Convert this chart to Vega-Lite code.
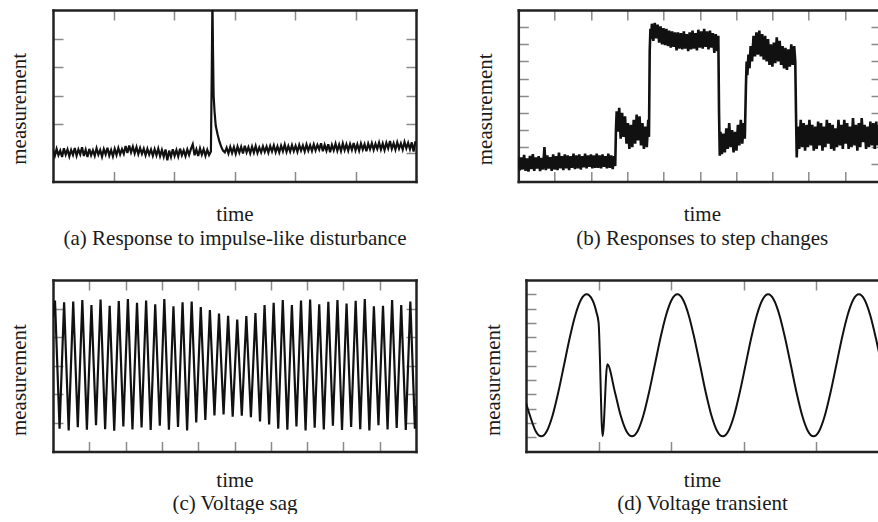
{
"$schema": "https://vega.github.io/schema/vega-lite/v6.json",
"padding": {"left": 8, "top": 9, "right": 0, "bottom": 0},
"background": "white",
"config": {
 "font": "Liberation Serif",
 "view": {"stroke": null},
 "axis": {"labels": false, "grid": false, "domainColor": "#222", "domainWidth": 2.5, "domainCap": "square", "tickColor": "#8a8a8a", "tickWidth": 1.5, "tickSize": -10, "titleFont": "Liberation Serif", "titleFontSize": 21, "titleFontWeight": "normal", "titleColor": "#1a1a1a", "titleBaseline": "alphabetic", "titleLineHeight": 23.8}
},
"datasets": {
 "a": [
{"t":0,"v":1.10},{"t":0.03,"v":0.90},{"t":0.06,"v":1.14},{"t":0.09,"v":0.92},{"t":0.12,"v":1.08},{"t":0.15,"v":0.86},{"t":0.18,"v":1.16},{"t":0.21,"v":0.94},{"t":0.24,"v":1.12},{"t":0.27,"v":0.88},{"t":0.30,"v":1.10},{"t":0.33,"v":0.93},{"t":0.36,"v":1.17},{"t":0.39,"v":0.90},{"t":0.42,"v":1.12},{"t":0.45,"v":0.95},{"t":0.48,"v":1.20},{"t":0.51,"v":0.89},{"t":0.54,"v":1.11},{"t":0.57,"v":0.86},{"t":0.60,"v":1.14},{"t":0.63,"v":0.92},{"t":0.66,"v":1.09},{"t":0.69,"v":0.90},{"t":0.72,"v":1.16},{"t":0.75,"v":0.94},{"t":0.78,"v":1.10},{"t":0.81,"v":0.87},{"t":0.84,"v":1.13},{"t":0.87,"v":0.95},{"t":0.90,"v":1.18},{"t":0.93,"v":0.91},{"t":0.96,"v":1.10},{"t":0.99,"v":0.88},{"t":1.02,"v":1.14},{"t":1.05,"v":0.93},{"t":1.08,"v":1.17},{"t":1.11,"v":0.95},{"t":1.14,"v":1.13},{"t":1.17,"v":0.97},{"t":1.20,"v":1.24},{"t":1.23,"v":1.00},{"t":1.26,"v":1.26},{"t":1.29,"v":1.02},{"t":1.32,"v":1.22},{"t":1.35,"v":0.98},{"t":1.38,"v":1.20},{"t":1.41,"v":0.96},{"t":1.44,"v":1.17},{"t":1.47,"v":0.97},{"t":1.50,"v":1.15},{"t":1.53,"v":0.92},{"t":1.56,"v":1.14},{"t":1.59,"v":0.94},{"t":1.62,"v":1.12},{"t":1.65,"v":0.90},{"t":1.68,"v":1.13},{"t":1.71,"v":0.92},{"t":1.74,"v":1.15},{"t":1.77,"v":0.89},{"t":1.80,"v":1.10},{"t":1.83,"v":0.87},{"t":1.86,"v":1.12},{"t":1.89,"v":0.74},{"t":1.92,"v":1.08},{"t":1.95,"v":0.86},{"t":1.98,"v":1.13},{"t":2.01,"v":0.90},{"t":2.04,"v":1.10},{"t":2.07,"v":0.88},{"t":2.10,"v":1.15},{"t":2.13,"v":0.92},{"t":2.16,"v":1.09},{"t":2.19,"v":0.89},{"t":2.22,"v":1.12},{"t":2.25,"v":0.93},{"t":2.28,"v":1.14},{"t":2.31,"v":1.30},{"t":2.34,"v":0.92},{"t":2.37,"v":1.12},{"t":2.40,"v":0.89},{"t":2.43,"v":1.16},{"t":2.46,"v":0.94},{"t":2.49,"v":1.13},{"t":2.52,"v":0.90},{"t":2.55,"v":1.11},{"t":2.58,"v":0.93},{"t":2.61,"v":1.05},
{"t":2.625,"v":4.0},{"t":2.635,"v":6.4},{"t":2.645,"v":4.5},{"t":2.655,"v":3.0},{"t":2.67,"v":2.45},{"t":2.69,"v":1.95},{"t":2.72,"v":1.65},{"t":2.75,"v":1.40},{"t":2.78,"v":1.22},{"t":2.81,"v":1.08},{"t":2.84,"v":1.02},
{"t":2.87,"v":1.18},{"t":2.90,"v":0.98},{"t":2.93,"v":1.21},{"t":2.96,"v":1.00},{"t":2.99,"v":1.20},{"t":3.02,"v":0.97},{"t":3.05,"v":1.22},{"t":3.08,"v":1.01},{"t":3.11,"v":1.21},{"t":3.14,"v":0.98},{"t":3.17,"v":1.25},{"t":3.20,"v":1.02},{"t":3.23,"v":1.20},{"t":3.26,"v":0.99},{"t":3.29,"v":1.22},{"t":3.32,"v":1.01},{"t":3.35,"v":1.24},{"t":3.38,"v":1.00},{"t":3.41,"v":1.19},{"t":3.44,"v":1.02},{"t":3.47,"v":1.23},{"t":3.50,"v":1.04},{"t":3.53,"v":1.22},{"t":3.56,"v":1.01},{"t":3.59,"v":1.24},{"t":3.62,"v":1.05},{"t":3.65,"v":1.26},{"t":3.68,"v":1.03},{"t":3.71,"v":1.23},{"t":3.74,"v":1.02},{"t":3.77,"v":1.25},{"t":3.80,"v":1.06},{"t":3.83,"v":1.29},{"t":3.86,"v":1.04},{"t":3.89,"v":1.24},{"t":3.92,"v":1.05},{"t":3.95,"v":1.27},{"t":3.98,"v":1.06},{"t":4.01,"v":1.25},{"t":4.04,"v":1.04},{"t":4.07,"v":1.28},{"t":4.10,"v":1.08},{"t":4.13,"v":1.26},{"t":4.16,"v":1.05},{"t":4.19,"v":1.29},{"t":4.22,"v":1.08},{"t":4.25,"v":1.27},{"t":4.28,"v":1.07},{"t":4.31,"v":1.30},{"t":4.34,"v":1.09},{"t":4.37,"v":1.28},{"t":4.40,"v":1.12},{"t":4.43,"v":1.34},{"t":4.46,"v":1.06},{"t":4.49,"v":1.28},{"t":4.52,"v":1.08},{"t":4.55,"v":1.30},{"t":4.58,"v":1.02},{"t":4.61,"v":1.28},{"t":4.64,"v":1.09},{"t":4.67,"v":1.32},{"t":4.70,"v":1.08},{"t":4.73,"v":1.29},{"t":4.76,"v":1.07},{"t":4.79,"v":1.33},{"t":4.82,"v":1.10},{"t":4.85,"v":1.30},{"t":4.88,"v":1.08},{"t":4.91,"v":1.31},{"t":4.94,"v":1.11},{"t":4.97,"v":1.35},{"t":5.00,"v":1.09},{"t":5.03,"v":1.30},{"t":5.06,"v":1.08},{"t":5.09,"v":1.33},{"t":5.12,"v":1.12},{"t":5.15,"v":1.30},{"t":5.18,"v":1.06},{"t":5.21,"v":1.32},{"t":5.24,"v":1.13},{"t":5.27,"v":1.34},{"t":5.30,"v":1.11},{"t":5.33,"v":1.32},{"t":5.36,"v":1.14},{"t":5.39,"v":1.36},{"t":5.42,"v":1.12},{"t":5.45,"v":1.33},{"t":5.48,"v":1.10},{"t":5.51,"v":1.35},{"t":5.54,"v":1.16},{"t":5.57,"v":1.42},{"t":5.60,"v":1.14},{"t":5.63,"v":1.34},{"t":5.66,"v":1.12},{"t":5.69,"v":1.37},{"t":5.72,"v":1.15},{"t":5.75,"v":1.33},{"t":5.78,"v":1.12},{"t":5.81,"v":1.38},{"t":5.84,"v":1.16},{"t":5.87,"v":1.35},{"t":5.90,"v":1.13},{"t":5.93,"v":1.37},{"t":5.96,"v":1.05},{"t":5.99,"v":1.40},{"t":6.00,"v":1.26}
 ],
 "b": [
{"t":0,"v":1.45},{"t":0.04,"v":0.65},{"t":0.08,"v":1.40},{"t":0.12,"v":0.70},{"t":0.16,"v":1.55},{"t":0.20,"v":0.62},{"t":0.24,"v":1.35},{"t":0.28,"v":0.58},{"t":0.32,"v":1.50},{"t":0.36,"v":0.72},{"t":0.40,"v":1.60},{"t":0.44,"v":0.62},{"t":0.48,"v":1.40},{"t":0.52,"v":0.75},{"t":0.56,"v":1.48},{"t":0.60,"v":0.60},{"t":0.64,"v":1.38},{"t":0.68,"v":0.70},{"t":0.72,"v":2.00},{"t":0.76,"v":0.66},{"t":0.80,"v":1.52},{"t":0.84,"v":0.75},{"t":0.88,"v":1.42},{"t":0.92,"v":0.62},{"t":0.96,"v":1.58},{"t":1.00,"v":0.70},{"t":1.04,"v":1.48},{"t":1.08,"v":0.66},{"t":1.12,"v":1.68},{"t":1.16,"v":0.76},{"t":1.20,"v":1.48},{"t":1.24,"v":0.66},{"t":1.28,"v":1.58},{"t":1.32,"v":0.76},{"t":1.36,"v":1.52},{"t":1.40,"v":0.66},{"t":1.44,"v":1.48},{"t":1.48,"v":0.80},{"t":1.52,"v":1.62},{"t":1.56,"v":0.72},{"t":1.60,"v":1.52},{"t":1.64,"v":0.76},{"t":1.68,"v":1.58},{"t":1.72,"v":0.70},{"t":1.76,"v":1.48},{"t":1.80,"v":0.82},{"t":1.84,"v":1.62},{"t":1.88,"v":0.76},{"t":1.92,"v":1.52},{"t":1.96,"v":0.86},{"t":2.00,"v":1.58},{"t":2.04,"v":0.76},{"t":2.08,"v":1.52},{"t":2.12,"v":0.80},{"t":2.16,"v":1.62},{"t":2.20,"v":0.80},{"t":2.24,"v":1.52},{"t":2.28,"v":0.76},{"t":2.32,"v":1.58},{"t":2.36,"v":0.86},{"t":2.40,"v":1.48},{"t":2.44,"v":0.76},{"t":2.48,"v":1.62},{"t":2.52,"v":0.80},{"t":2.56,"v":1.52},{"t":2.60,"v":0.72},{"t":2.64,"v":1.48},{"t":2.67,"v":0.90},
{"t":2.69,"v":3.0},{"t":2.71,"v":4.1},{"t":2.74,"v":2.9},{"t":2.78,"v":4.3},{"t":2.82,"v":2.5},{"t":2.86,"v":4.0},{"t":2.90,"v":2.6},{"t":2.94,"v":3.8},{"t":2.98,"v":2.2},{"t":3.02,"v":3.4},{"t":3.06,"v":1.9},{"t":3.10,"v":3.3},{"t":3.14,"v":2.0},{"t":3.18,"v":3.6},{"t":3.22,"v":2.2},{"t":3.26,"v":3.9},{"t":3.30,"v":2.4},{"t":3.34,"v":3.8},{"t":3.38,"v":2.1},{"t":3.42,"v":3.4},{"t":3.46,"v":1.9},{"t":3.50,"v":3.2},{"t":3.54,"v":2.0},{"t":3.58,"v":3.6},{"t":3.60,"v":2.6},
{"t":3.62,"v":7.6},{"t":3.64,"v":8.9},{"t":3.66,"v":8.3},{"t":3.68,"v":9.2},{"t":3.72,"v":8.2},{"t":3.76,"v":9.25},{"t":3.80,"v":8.35},{"t":3.84,"v":9.15},{"t":3.88,"v":8.1},{"t":3.92,"v":9.05},{"t":3.96,"v":8.0},{"t":4.00,"v":8.95},{"t":4.04,"v":7.95},{"t":4.08,"v":8.9},{"t":4.12,"v":7.9},{"t":4.16,"v":8.8},{"t":4.20,"v":7.8},{"t":4.24,"v":8.75},{"t":4.28,"v":7.85},{"t":4.32,"v":8.7},{"t":4.36,"v":7.65},{"t":4.40,"v":8.7},{"t":4.44,"v":7.75},{"t":4.48,"v":8.65},{"t":4.52,"v":7.7},{"t":4.56,"v":8.75},{"t":4.60,"v":7.75},{"t":4.64,"v":8.6},{"t":4.68,"v":7.6},{"t":4.72,"v":8.7},{"t":4.76,"v":7.7},{"t":4.80,"v":8.8},{"t":4.84,"v":7.75},{"t":4.88,"v":8.65},{"t":4.92,"v":7.65},{"t":4.96,"v":8.85},{"t":5.00,"v":7.8},{"t":5.04,"v":8.75},{"t":5.08,"v":7.75},{"t":5.12,"v":8.9},{"t":5.16,"v":7.85},{"t":5.20,"v":8.75},{"t":5.24,"v":7.7},{"t":5.28,"v":8.8},{"t":5.32,"v":7.8},{"t":5.36,"v":8.65},{"t":5.40,"v":7.5},{"t":5.44,"v":8.6},{"t":5.48,"v":7.6},{"t":5.51,"v":8.5},
{"t":5.53,"v":4.0},{"t":5.55,"v":1.5},{"t":5.57,"v":2.9},{"t":5.61,"v":1.6},{"t":5.65,"v":2.8},{"t":5.69,"v":1.7},{"t":5.73,"v":3.1},{"t":5.77,"v":1.9},{"t":5.81,"v":3.4},{"t":5.85,"v":2.0},{"t":5.89,"v":3.0},{"t":5.93,"v":1.7},{"t":5.97,"v":2.9},{"t":6.01,"v":1.8},{"t":6.05,"v":3.3},{"t":6.09,"v":2.1},{"t":6.13,"v":3.6},{"t":6.17,"v":2.2},{"t":6.21,"v":3.4},{"t":6.24,"v":2.5},
{"t":6.27,"v":5.5},{"t":6.29,"v":7.0},{"t":6.31,"v":6.2},{"t":6.34,"v":7.4},{"t":6.37,"v":6.6},{"t":6.40,"v":7.9},{"t":6.44,"v":7.0},{"t":6.48,"v":8.5},{"t":6.52,"v":7.3},{"t":6.56,"v":8.7},{"t":6.60,"v":7.4},{"t":6.64,"v":8.8},{"t":6.68,"v":7.3},{"t":6.72,"v":8.6},{"t":6.76,"v":7.1},{"t":6.80,"v":8.5},{"t":6.84,"v":7.0},{"t":6.88,"v":8.3},{"t":6.92,"v":6.8},{"t":6.96,"v":8.0},{"t":7.00,"v":6.7},{"t":7.04,"v":8.1},{"t":7.08,"v":6.9},{"t":7.12,"v":8.4},{"t":7.16,"v":7.0},{"t":7.20,"v":8.2},{"t":7.24,"v":6.8},{"t":7.28,"v":7.9},{"t":7.32,"v":6.6},{"t":7.36,"v":7.8},{"t":7.40,"v":6.5},{"t":7.44,"v":7.7},{"t":7.48,"v":6.7},{"t":7.52,"v":8.0},{"t":7.56,"v":6.8},{"t":7.60,"v":7.9},{"t":7.63,"v":7.0},
{"t":7.65,"v":4.0},{"t":7.67,"v":1.4},{"t":7.70,"v":3.2},{"t":7.74,"v":1.9},{"t":7.78,"v":3.6},{"t":7.82,"v":2.0},{"t":7.86,"v":3.4},{"t":7.90,"v":1.8},{"t":7.94,"v":3.3},{"t":7.98,"v":2.0},{"t":8.02,"v":3.6},{"t":8.06,"v":2.1},{"t":8.10,"v":3.3},{"t":8.14,"v":1.8},{"t":8.18,"v":3.2},{"t":8.22,"v":1.9},{"t":8.26,"v":3.5},{"t":8.30,"v":2.1},{"t":8.34,"v":3.4},{"t":8.38,"v":1.8},{"t":8.42,"v":3.2},{"t":8.46,"v":2.0},{"t":8.50,"v":3.6},{"t":8.54,"v":2.2},{"t":8.58,"v":3.4},{"t":8.62,"v":1.9},{"t":8.66,"v":3.3},{"t":8.70,"v":1.8},{"t":8.74,"v":3.1},{"t":8.78,"v":2.0},{"t":8.82,"v":3.6},{"t":8.86,"v":2.1},{"t":8.90,"v":3.3},{"t":8.94,"v":1.9},{"t":8.98,"v":3.6},{"t":9.02,"v":2.2},{"t":9.06,"v":3.4},{"t":9.10,"v":1.9},{"t":9.14,"v":3.2},{"t":9.18,"v":2.0},{"t":9.22,"v":3.7},{"t":9.26,"v":2.1},{"t":9.30,"v":3.3},{"t":9.34,"v":1.8},{"t":9.38,"v":3.4},{"t":9.42,"v":2.0},{"t":9.46,"v":3.7},{"t":9.50,"v":2.3},{"t":9.54,"v":3.3},{"t":9.58,"v":1.9},{"t":9.62,"v":3.2},{"t":9.66,"v":2.0},{"t":9.70,"v":3.5},{"t":9.74,"v":2.1},{"t":9.78,"v":3.4},{"t":9.82,"v":1.9},{"t":9.86,"v":3.5},{"t":9.90,"v":2.1},{"t":9.94,"v":3.3},{"t":9.98,"v":2.0}
 ],
 "c": [
{"t":0,"v":4.7},{"t":0.055,"v":5.28},{"t":0.181,"v":0.80},{"t":0.306,"v":5.22},{"t":0.432,"v":0.74},{"t":0.557,"v":5.25},{"t":0.683,"v":0.85},{"t":0.808,"v":5.30},{"t":0.934,"v":0.76},{"t":1.059,"v":5.12},{"t":1.185,"v":0.92},{"t":1.310,"v":5.32},{"t":1.436,"v":0.78},{"t":1.561,"v":5.10},{"t":1.687,"v":0.73},{"t":1.812,"v":5.26},{"t":1.938,"v":0.88},{"t":2.063,"v":5.33},{"t":2.189,"v":0.77},{"t":2.314,"v":5.20},{"t":2.440,"v":0.84},{"t":2.565,"v":5.28},{"t":2.691,"v":0.75},{"t":2.816,"v":5.15},{"t":2.942,"v":0.90},{"t":3.067,"v":5.33},{"t":3.193,"v":0.76},{"t":3.318,"v":5.08},{"t":3.444,"v":0.86},{"t":3.569,"v":5.22},{"t":3.695,"v":0.74},{"t":3.820,"v":5.25},{"t":3.946,"v":1.02},{"t":4.071,"v":5.05},{"t":4.197,"v":1.10},{"t":4.322,"v":4.95},{"t":4.448,"v":1.26},{"t":4.573,"v":4.83},{"t":4.699,"v":1.30},{"t":4.824,"v":4.75},{"t":4.950,"v":1.22},{"t":5.075,"v":4.62},{"t":5.201,"v":1.25},{"t":5.326,"v":4.74},{"t":5.452,"v":1.20},{"t":5.577,"v":4.84},{"t":5.703,"v":1.05},{"t":5.828,"v":5.12},{"t":5.954,"v":0.95},{"t":6.079,"v":5.20},{"t":6.205,"v":0.80},{"t":6.330,"v":5.30},{"t":6.456,"v":0.76},{"t":6.581,"v":5.12},{"t":6.707,"v":0.88},{"t":6.832,"v":5.28},{"t":6.958,"v":0.74},{"t":7.083,"v":5.32},{"t":7.209,"v":0.83},{"t":7.334,"v":5.15},{"t":7.460,"v":0.77},{"t":7.585,"v":5.24},{"t":7.711,"v":0.90},{"t":7.836,"v":5.30},{"t":7.962,"v":0.75},{"t":8.087,"v":5.18},{"t":8.213,"v":0.86},{"t":8.338,"v":5.27},{"t":8.464,"v":0.78},{"t":8.589,"v":5.33},{"t":8.715,"v":0.74},{"t":8.840,"v":5.08},{"t":8.966,"v":0.92},{"t":9.091,"v":5.10},{"t":9.217,"v":0.77},{"t":9.342,"v":5.30},{"t":9.468,"v":0.82},{"t":9.593,"v":5.12},{"t":9.719,"v":0.75},{"t":9.844,"v":5.25},{"t":9.970,"v":0.80},{"t":10.0,"v":1.6}
 ],
 "d": [
{"t":0,"v":3.40},{"t":0.054,"v":2.52},{"t":0.132,"v":1.44},{"t":0.21,"v":1.06},{"t":0.288,"v":1.44},{"t":0.366,"v":2.52},{"t":0.444,"v":4.13},{"t":0.523,"v":6.03},{"t":0.601,"v":7.93},{"t":0.679,"v":9.54},{"t":0.757,"v":10.62},{"t":0.835,"v":11.0},{"t":0.913,"v":10.62},{"t":0.97,"v":9.75},{"t":1.0,"v":9.0},{"t":1.055,"v":1.07},{"t":1.12,"v":6.1},{"t":1.226,"v":4.13},{"t":1.304,"v":2.52},{"t":1.382,"v":1.44},{"t":1.46,"v":1.06},{"t":1.538,"v":1.44},{"t":1.616,"v":2.52},{"t":1.694,"v":4.13},{"t":1.773,"v":6.03},{"t":1.851,"v":7.93},{"t":1.929,"v":9.54},{"t":2.007,"v":10.62},{"t":2.085,"v":11.0},{"t":2.163,"v":10.62},{"t":2.241,"v":9.54},{"t":2.319,"v":7.93},{"t":2.398,"v":6.03},{"t":2.476,"v":4.13},{"t":2.554,"v":2.52},{"t":2.632,"v":1.44},{"t":2.71,"v":1.06},{"t":2.788,"v":1.44},{"t":2.866,"v":2.52},{"t":2.944,"v":4.13},{"t":3.023,"v":6.03},{"t":3.101,"v":7.93},{"t":3.179,"v":9.54},{"t":3.257,"v":10.62},{"t":3.335,"v":11.0},{"t":3.413,"v":10.62},{"t":3.491,"v":9.54},{"t":3.569,"v":7.93},{"t":3.648,"v":6.03},{"t":3.726,"v":4.13},{"t":3.804,"v":2.52},{"t":3.882,"v":1.44},{"t":3.96,"v":1.06},{"t":4.038,"v":1.44},{"t":4.116,"v":2.52},{"t":4.194,"v":4.13},{"t":4.273,"v":6.03},{"t":4.351,"v":7.93},{"t":4.429,"v":9.54},{"t":4.507,"v":10.62},{"t":4.585,"v":11.0},{"t":4.663,"v":10.62},{"t":4.741,"v":9.54},{"t":4.819,"v":7.93},{"t":4.898,"v":6.03},{"t":4.976,"v":4.13}
 ]
},
"vconcat": [
 {"hconcat": [
  {"width": 363, "height": 171.5, "data": {"name": "a"},
   "layer": [
    {"mark": {"type": "line", "color": "#111", "strokeWidth": 2.2, "clip": true},
     "encoding": {
      "x": {"field": "t", "type": "quantitative", "scale": {"domain": [0, 6], "nice": false, "zero": false}, "axis": {"orient": "bottom", "values": [1, 2, 3, 4, 5], "title": ["time", "(a) Response to impulse-like disturbance"], "titleY": 39}},
      "y": {"field": "v", "type": "quantitative", "scale": {"domain": [0, 6], "nice": false, "zero": false}, "axis": {"orient": "left", "values": [1, 2, 3, 4, 5], "title": "measurement", "titleX": -28, "titleY": 98.3, "titleAngle": 270, "titleAlign": "center"}}
     }},
    {"mark": {"type": "line", "opacity": 0, "clip": true},
     "encoding": {
      "x": {"field": "t", "type": "quantitative", "axis": {"orient": "top", "values": [1, 2, 3, 4, 5], "title": null}},
      "y": {"field": "v", "type": "quantitative", "axis": {"orient": "right", "values": [1, 2, 3, 4, 5], "title": null}}
     }}
   ],
   "resolve": {"axis": {"x": "independent", "y": "independent"}}
  },
  {"width": 359.7, "height": 171.5, "data": {"name": "b"},
   "layer": [
    {"mark": {"type": "line", "color": "#111", "strokeWidth": 2.6, "clip": true},
     "encoding": {
      "x": {"field": "t", "type": "quantitative", "scale": {"domain": [0, 9.909], "nice": false, "zero": false}, "axis": {"orient": "bottom", "values": [1, 2, 3, 4, 5, 6, 7, 8, 9], "title": ["time", "(b) Responses to step changes"], "titleY": 39, "titleX": 183.5}},
      "y": {"field": "v", "type": "quantitative", "scale": {"domain": [0, 10], "nice": false, "zero": false}, "axis": {"orient": "left", "values": [1, 2, 3, 4, 5, 6, 7, 8, 9], "title": "measurement", "titleX": -27, "titleY": 98.8, "titleAngle": 270, "titleAlign": "center"}}
     }},
    {"mark": {"type": "line", "opacity": 0, "clip": true},
     "encoding": {
      "x": {"field": "t", "type": "quantitative", "axis": {"orient": "top", "values": [1, 2, 3, 4, 5, 6, 7, 8, 9], "title": null}},
      "y": {"field": "v", "type": "quantitative", "axis": {"orient": "right", "values": [1, 2, 3, 4, 5, 6, 7, 8, 9], "title": null, "domain": false, "tickSize": -7}}
     }}
   ],
   "resolve": {"axis": {"x": "independent", "y": "independent"}}
  }
 ], "spacing": 102.3, "bounds": "flush"},
 {"hconcat": [
  {"width": 363, "height": 171.5, "data": {"name": "c"},
   "layer": [
    {"mark": {"type": "line", "color": "#111", "strokeWidth": 2.2, "clip": true},
     "encoding": {
      "x": {"field": "t", "type": "quantitative", "scale": {"domain": [0, 10], "nice": false, "zero": false}, "axis": {"orient": "bottom", "values": [1, 2, 3, 4, 5, 6, 7, 8, 9], "title": ["time", "(c) Voltage sag"], "titleY": 34.5}},
      "y": {"field": "v", "type": "quantitative", "scale": {"domain": [0, 6], "nice": false, "zero": false}, "axis": {"orient": "left", "values": [1, 2, 3, 4, 5], "title": "measurement", "titleX": -28, "titleY": 99.6, "titleAngle": 270, "titleAlign": "center"}}
     }},
    {"mark": {"type": "line", "opacity": 0, "clip": true},
     "encoding": {
      "x": {"field": "t", "type": "quantitative", "axis": {"orient": "top", "values": [1, 2, 3, 4, 5, 6, 7, 8, 9], "title": null}},
      "y": {"field": "v", "type": "quantitative", "axis": {"orient": "right", "values": [1, 2, 3, 4, 5], "title": null}}
     }}
   ],
   "resolve": {"axis": {"x": "independent", "y": "independent"}}
  },
  {"width": 352, "height": 171.5, "data": {"name": "d"},
   "layer": [
    {"mark": {"type": "line", "color": "#111", "strokeWidth": 2, "clip": true, "interpolate": "monotone"},
     "encoding": {
      "x": {"field": "t", "type": "quantitative", "scale": {"domain": [0, 4.848], "nice": false, "zero": false}, "axis": {"orient": "bottom", "values": [1, 2, 3, 4], "title": ["time", "(d) Voltage transient"], "titleY": 34.5, "titleX": 176}},
      "y": {"field": "v", "type": "quantitative", "scale": {"domain": [0, 12], "nice": false, "zero": false}, "axis": {"orient": "left", "values": [1, 2, 3, 4, 5, 6, 7, 8, 9, 10, 11], "title": "measurement", "titleX": -27, "titleY": 99.6, "titleAngle": 270, "titleAlign": "center"}}
     }},
    {"mark": {"type": "line", "opacity": 0, "clip": true},
     "encoding": {
      "x": {"field": "t", "type": "quantitative", "axis": {"orient": "top", "values": [1, 2, 3, 4], "title": null}}
     }}
   ],
   "resolve": {"axis": {"x": "independent", "y": "independent"}}
  }
 ], "spacing": 110, "bounds": "flush"}
],
"spacing": 270,
"bounds": "flush"
}
